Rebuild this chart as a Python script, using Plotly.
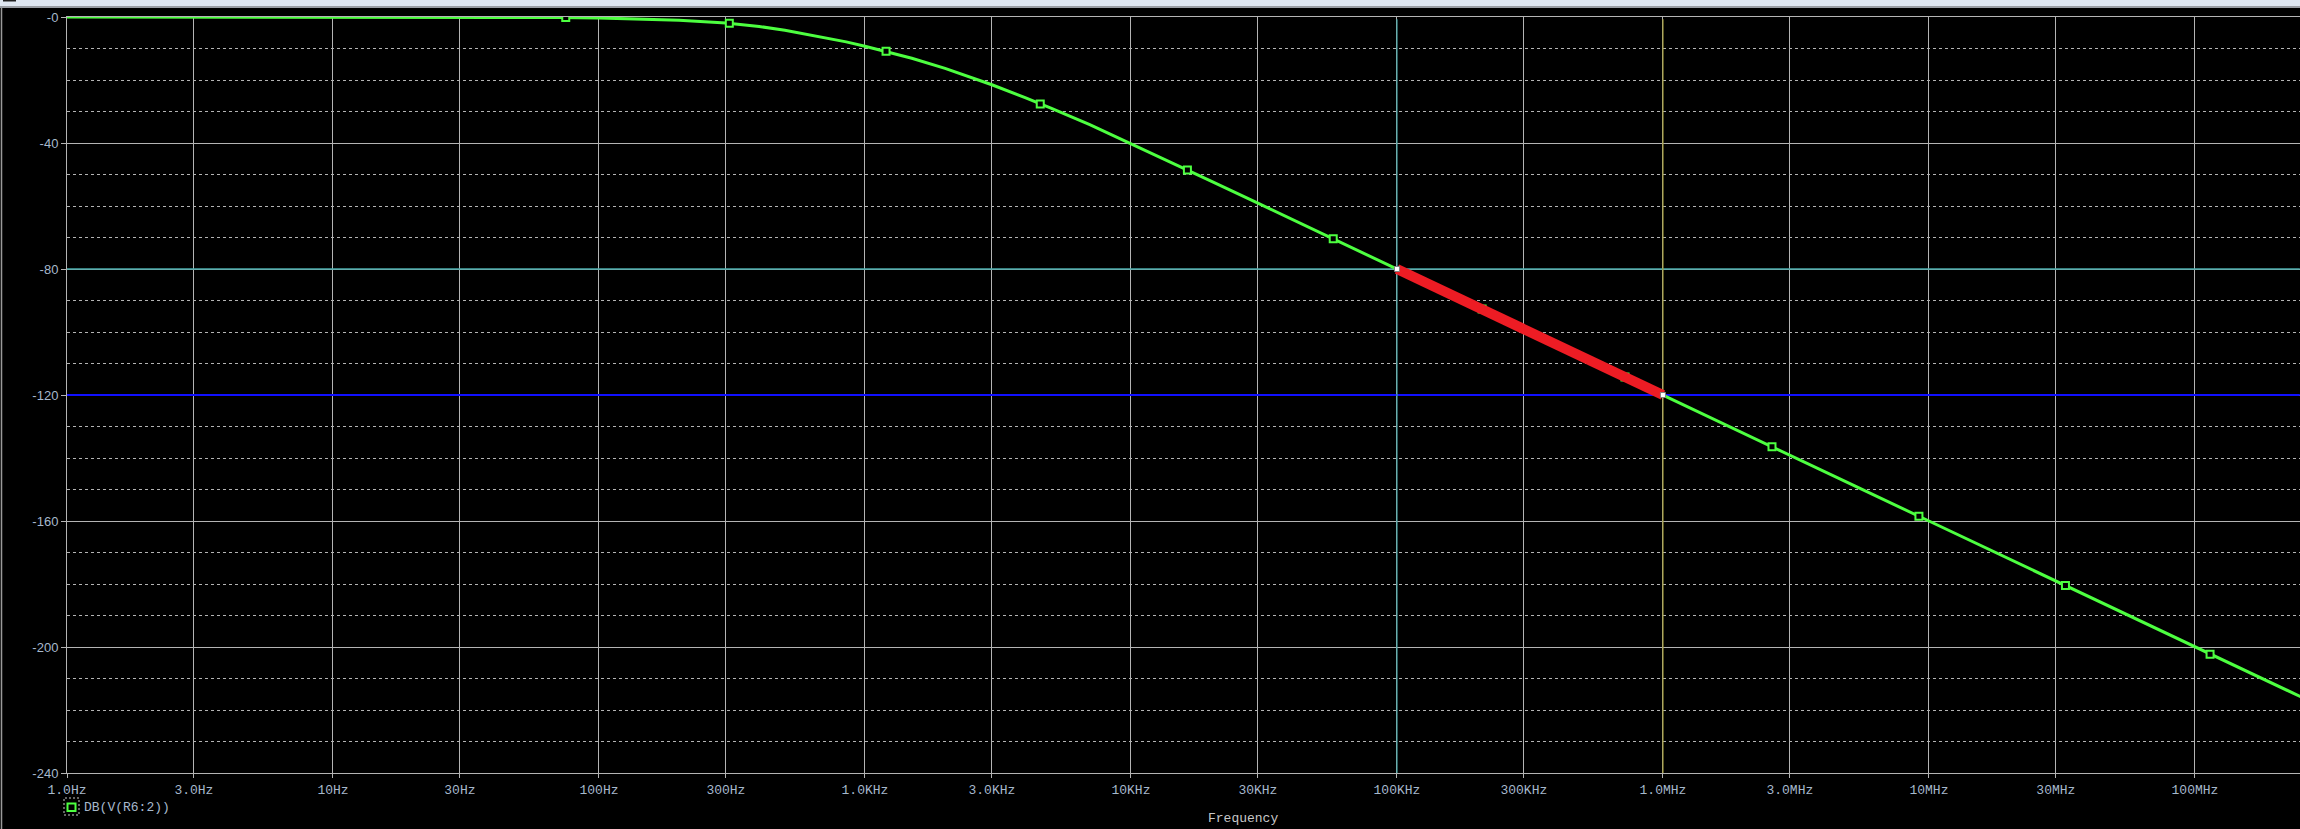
import plotly.graph_objects as go

# ---- data ----
freq_hz = [1, 3, 10, 30, 50, 70, 100, 150, 200, 300, 400, 500, 700, 850,
           1e3, 1.2e3, 1.5e3, 2e3, 3e3, 4e3, 5e3, 7e3, 1e4, 2e4, 3e4, 5e4,
           1e5, 2e5, 5e5, 1e6, 2e6, 5e6, 1e7, 2e7, 5e7, 1e8, 2.5e8]
db_v_r6 = [0.0, 0.0, 0.0, -0.05, -0.1, -0.15, -0.3, -0.6, -1.0, -1.9, -3.0, -4.2, -6.4, -7.9,
           -9.3, -10.9, -13.1, -16.3, -21.5, -25.6, -28.9, -34.2, -40.2, -52.1, -59.1, -68.0,
           -80.0, -92.0, -108.0, -120.0, -132.0, -148.0, -160.0, -172.0, -188.0, -200.0, -215.8]

marker_freq_hz = [75, 309, 1.2e3, 4.56e3, 1.63e4, 5.76e4, 2.09e5, 7.2e5, 2.57e6, 9.17e6, 3.26e7, 1.14e8]
marker_db = [-0.15, -2.0, -10.9, -27.6, -48.6, -70.4, -92.7, -114.3, -136.4, -158.5, -180.5, -202.3]

cursor_freq_hz = [1e5, 1e6]
cursor_db = [-80, -120]

x_range_hz = [1, 2.48e8]
y_range_db = [-240, 0]

x_tickvals = [1, 3, 10, 30, 100, 300, 1e3, 3e3, 1e4, 3e4, 1e5, 3e5, 1e6, 3e6, 1e7, 3e7, 1e8]
x_ticktext = ["1.0Hz", "3.0Hz", "10Hz", "30Hz", "100Hz", "300Hz", "1.0KHz", "3.0KHz",
              "10KHz", "30KHz", "100KHz", "300KHz", "1.0MHz", "3.0MHz", "10MHz", "30MHz", "100MHz"]
y_tickvals = [0, -40, -80, -120, -160, -200, -240]
y_ticktext = ["-0", "-40", "-80", "-120", "-160", "-200", "-240"]

trace_name = "DB(V(R6:2))"

# ---- layout geometry (pixels) ----
W, H = 2300, 829
PLOT_L, PLOT_T, PLOT_B = 67, 17, 773


def px(x):
    return x / W


def py(y):
    return 1 - y / H


GREEN = "#4dff40"
GRID = "#b4b4b4"
LABEL = "#a6b8cc"
TEAL = "#48aaaa"
OLIVE = "#a8a03c"

fig = go.Figure()

# cursor cross-hair lines (drawn first, under the trace)
fig.add_trace(go.Scatter(x=x_range_hz, y=[cursor_db[0]] * 2, mode="lines",
                         line=dict(color=TEAL, width=1.5), hoverinfo="skip", showlegend=False))
fig.add_trace(go.Scatter(x=x_range_hz, y=[cursor_db[1]] * 2, mode="lines",
                         line=dict(color="#1010ff", width=2), hoverinfo="skip", showlegend=False))
fig.add_trace(go.Scatter(x=[cursor_freq_hz[0]] * 2, y=[y_range_db[0], -0.7], mode="lines",
                         line=dict(color=TEAL, width=1.2), hoverinfo="skip", showlegend=False))
fig.add_trace(go.Scatter(x=[cursor_freq_hz[1]] * 2, y=[y_range_db[0], -0.7], mode="lines",
                         line=dict(color=OLIVE, width=1.2), hoverinfo="skip", showlegend=False))

fig.add_trace(go.Scatter(x=freq_hz, y=db_v_r6, mode="lines",
                         line=dict(color=GREEN, width=3), hoverinfo="skip",
                         showlegend=False))
fig.add_trace(go.Scatter(x=marker_freq_hz, y=marker_db, mode="markers",
                         marker=dict(symbol="square", size=7, color="black",
                                     line=dict(color=GREEN, width=2)),
                         showlegend=False, hoverinfo="skip"))
fig.add_trace(go.Scatter(x=cursor_freq_hz, y=cursor_db, mode="lines",
                         line=dict(color="#ed1c24", width=10), showlegend=False,
                         hoverinfo="skip"))
fig.add_trace(go.Scatter(x=cursor_freq_hz, y=cursor_db, mode="markers",
                         marker=dict(symbol="square", size=5, color="white",
                                     line=dict(color="#808080", width=1)),
                         showlegend=False, hoverinfo="skip"))

shapes = []
# window chrome at top
shapes.append(dict(type="rect", xref="paper", yref="paper", x0=0, x1=1,
                   y0=py(6), y1=1, fillcolor="#dfe7f1", line=dict(width=0), layer="above"))
shapes.append(dict(type="line", xref="paper", yref="paper", x0=0, x1=1,
                   y0=py(7), y1=py(7), line=dict(color="#9a9ea4", width=2), layer="above"))
shapes.append(dict(type="rect", xref="paper", yref="paper", x0=px(3), x1=px(16),
                   y0=py(1.5), y1=1, fillcolor="#202020", line=dict(width=0), layer="above"))
# left window border
shapes.append(dict(type="line", xref="paper", yref="paper", x0=px(1.5), x1=px(1.5),
                   y0=0, y1=py(8), line=dict(color="#9a9a9a", width=1.5), layer="above"))
# legend symbol
shapes.append(dict(type="rect", xref="paper", yref="paper", x0=px(64), x1=px(79),
                   y0=py(815), y1=py(798), line=dict(color="#c8c8c8", width=1, dash="2px,2px"),
                   fillcolor="black", layer="above"))
shapes.append(dict(type="rect", xref="paper", yref="paper", x0=px(67.5), x1=px(75.5),
                   y0=py(811), y1=py(803.5), line=dict(color=GREEN, width=2),
                   fillcolor="black", layer="above"))

annotations = [
    dict(text=trace_name, xref="paper", yref="paper", x=px(82), y=py(807),
         xanchor="left", yanchor="middle", showarrow=False,
         font=dict(family="Liberation Mono", size=13, color=LABEL)),
    dict(text="Frequency", xref="paper", yref="paper", x=px(1243), y=py(828),
         xanchor="center", yanchor="bottom", showarrow=False,
         font=dict(family="Liberation Mono", size=13, color="#c8c8c8")),
]

fig.update_layout(
    width=W, height=H,
    margin=dict(l=0, r=0, t=0, b=0, pad=0),
    paper_bgcolor="black", plot_bgcolor="black",
    shapes=shapes, annotations=annotations,
    showlegend=False,
    xaxis=dict(type="log", range=[0, 8.395], domain=[px(PLOT_L), 1],
               tickmode="array", tickvals=x_tickvals, ticktext=x_ticktext,
               showgrid=True, gridcolor=GRID, gridwidth=1,
               showline=True, linecolor=GRID, linewidth=1, mirror=True,
               ticks="outside", ticklen=4, tickcolor=GRID, tickwidth=1,
               tickfont=dict(family="Liberation Mono", size=13, color=LABEL),
               zeroline=False, fixedrange=True, automargin=False),
    yaxis=dict(range=y_range_db, domain=[py(PLOT_B), py(PLOT_T)],
               tickmode="array", tickvals=y_tickvals, ticktext=y_ticktext,
               showgrid=True, gridcolor=GRID, gridwidth=1,
               showline=True, linecolor=GRID, linewidth=1, mirror=False,
               ticks="outside", ticklen=5, tickcolor=GRID, tickwidth=1,
               tickfont=dict(family="Liberation Sans", size=13, color=LABEL),
               zeroline=False, fixedrange=True, automargin=False,
               minor=dict(dtick=10, tick0=0, showgrid=True, gridcolor=GRID,
                          gridwidth=1, griddash="3px,3px", ticks="")),
)

fig.write_html("out.html",
               config={"displayModeBar": False},
               post_script="document.body.style.margin='0';"
                           "document.body.style.overflow='hidden';"
                           "document.body.style.background='black';")
